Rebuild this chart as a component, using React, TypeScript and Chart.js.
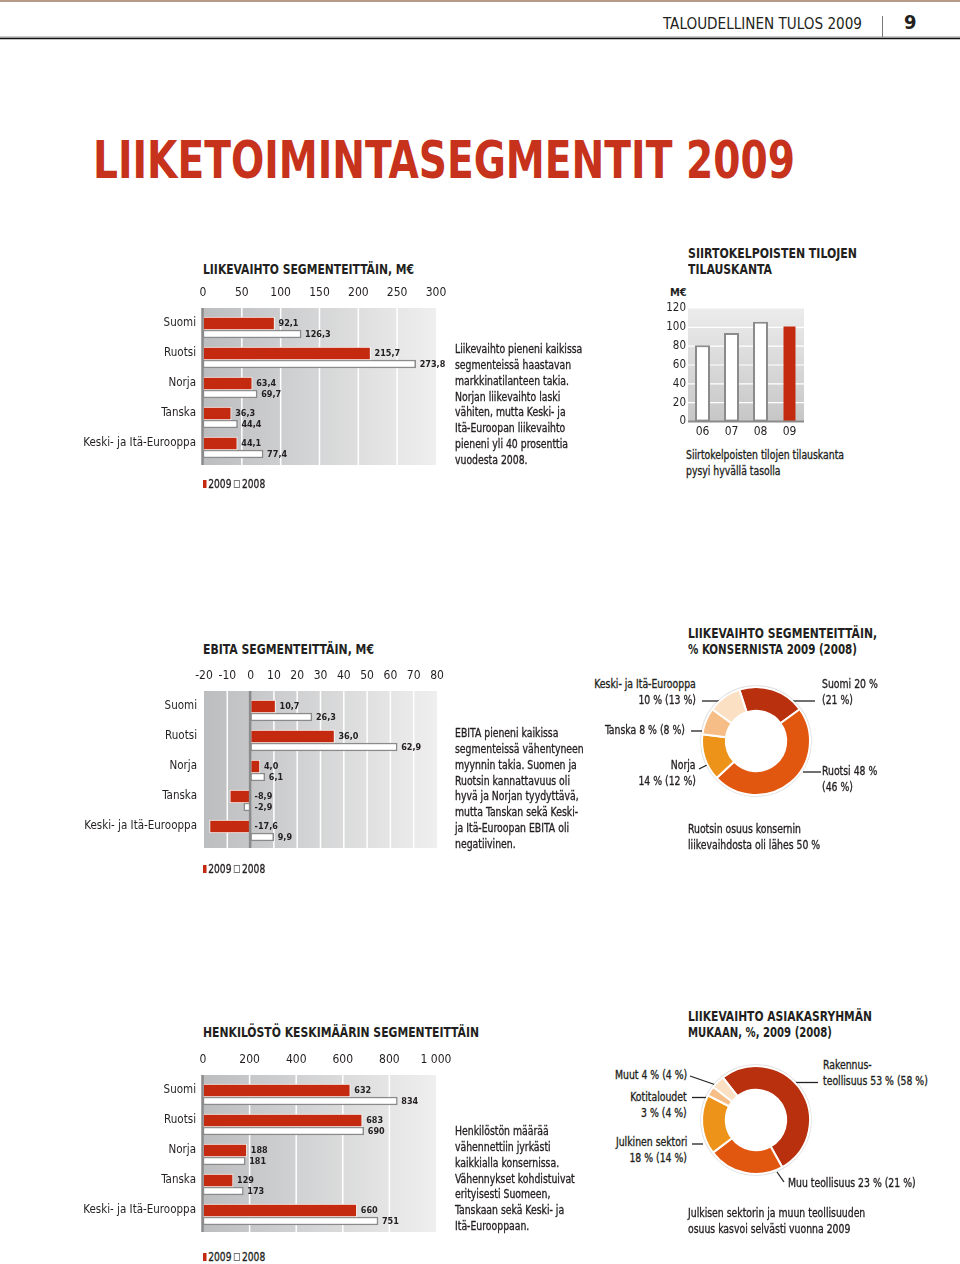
import React, { useEffect, useLayoutEffect, useRef } from 'react';
import { Chart, registerables } from 'chart.js';

Chart.register(...registerables);

const FONT = '"Liberation Sans Narrow", "DejaVu Sans Condensed", Roboto, sans-serif';
Chart.defaults.font.family = FONT;
Chart.defaults.color = '#231f20';

const TEXT = '#231f20';
const RED = '#c42a10';
const TITLE_RED = '#c6321b';
const GRAY = '#8b8b8b';

// ---------- data ----------
const segments = ['Suomi', 'Ruotsi', 'Norja', 'Tanska', 'Keski- ja Itä-Eurooppa'];
const revenue2009 = [92.1, 215.7, 63.4, 36.3, 44.1];
const revenue2008 = [126.3, 273.8, 69.7, 44.4, 77.4];
const ebita2009 = [10.7, 36.0, 4.0, -8.9, -17.6];
const ebita2008 = [26.3, 62.9, 6.1, -2.9, 9.9];
const staff2009 = [632, 683, 188, 129, 660];
const staff2008 = [834, 690, 181, 173, 751];
const orderYears = ['06', '07', '08', '09'];
const orderBacklog = [81, 94, 106, 101];
const segmentShare2009 = [20, 48, 14, 8, 10];
const segmentShare2008 = [21, 46, 12, 8, 13];
const customerGroups = ['Rakennusteollisuus', 'Muu teollisuus', 'Julkinen sektori', 'Kotitaloudet', 'Muut'];
const customerShare2009 = [53, 23, 18, 3, 4];
const customerShare2008 = [58, 21, 14, 4, 4];
const pieColors = ['#b9300f', '#e2570f', '#ee931a', '#f6bd86', '#fbe0c3'];

const fmtNum = (v: number) => String(v).replace(/\B(?=(\d{3})+(?!\d))/g, ' ');
const pct = (a: number, b: number) => `${a} % (${b} %)`;

// ---------- plugins ----------
const hbarBackground = {
  id: 'hbarBg',
  beforeDatasetsDraw(chart: any) {
    const { ctx, chartArea: { left, right, top, bottom } } = chart;
    const x = chart.scales.x;
    const t = top - 7;
    ctx.save();
    const g = ctx.createLinearGradient(left, 0, right, 0);
    g.addColorStop(0, '#bcbdbf');
    g.addColorStop(1, '#efefef');
    ctx.fillStyle = g;
    ctx.fillRect(left, t, right - left, bottom - t);
    ctx.strokeStyle = '#ffffff';
    ctx.lineWidth = 1.5;
    x.ticks.forEach((tk: any) => {
      const px = x.getPixelForValue(tk.value);
      if (px > left + 2 && px < right - 2 && tk.value !== 0) {
        ctx.beginPath();
        ctx.moveTo(px, t);
        ctx.lineTo(px, bottom);
        ctx.stroke();
      }
    });
    ctx.restore();
  },
  afterDatasetsDraw(chart: any) {
    const { ctx, chartArea: { top, bottom } } = chart;
    const px = chart.scales.x.getPixelForValue(0);
    ctx.save();
    ctx.strokeStyle = GRAY;
    ctx.lineWidth = 2.5;
    ctx.beginPath();
    ctx.moveTo(px - 0.5, top - 7);
    ctx.lineTo(px - 0.5, bottom);
    ctx.stroke();
    ctx.restore();
  },
};

const barValueLabels = (decimals: number) => ({
  id: 'barValueLabels',
  afterDatasetsDraw(chart: any) {
    const { ctx } = chart;
    const x0 = chart.scales.x.getPixelForValue(0);
    ctx.save();
    ctx.font = `bold 9px ${FONT}`;
    ctx.fillStyle = TEXT;
    ctx.textBaseline = 'middle';
    ctx.textAlign = 'left';
    chart.data.datasets.forEach((ds: any, di: number) => {
      const meta = chart.getDatasetMeta(di);
      meta.data.forEach((el: any, i: number) => {
        const v = ds.data[i] as number;
        const txt = decimals ? v.toFixed(decimals).replace('.', ',') : fmtNum(v);
        ctx.fillText(txt, Math.max(el.x, x0) + 4, el.y + 0.5);
      });
    });
    ctx.restore();
  },
});

const columnBackground = {
  id: 'colBg',
  beforeDatasetsDraw(chart: any) {
    const { ctx, chartArea: { left, right, top, bottom } } = chart;
    const y = chart.scales.y;
    ctx.save();
    const g = ctx.createLinearGradient(0, top, 0, bottom);
    g.addColorStop(0, '#ececec');
    g.addColorStop(1, '#c6c6c6');
    ctx.fillStyle = g;
    ctx.fillRect(left, top, right - left, bottom - top);
    ctx.strokeStyle = '#ffffff';
    ctx.lineWidth = 1.2;
    y.ticks.forEach((tk: any) => {
      const py = y.getPixelForValue(tk.value);
      if (py > top + 2 && py < bottom - 2) {
        ctx.beginPath();
        ctx.moveTo(left, py);
        ctx.lineTo(right, py);
        ctx.stroke();
      }
    });
    ctx.restore();
  },
  afterDatasetsDraw(chart: any) {
    const { ctx, chartArea: { left, right, bottom } } = chart;
    ctx.save();
    ctx.strokeStyle = GRAY;
    ctx.lineWidth = 2;
    ctx.beginPath();
    ctx.moveTo(left, bottom);
    ctx.lineTo(right, bottom);
    ctx.stroke();
    ctx.restore();
  },
};

const ringHalo = {
  id: 'ringHalo',
  beforeDatasetsDraw(chart: any) {
    const arc: any = chart.getDatasetMeta(0).data[0];
    if (!arc) return;
    const { ctx } = chart;
    ctx.save();
    ctx.beginPath();
    ctx.arc(arc.x, arc.y, arc.outerRadius + 0.5, 0, Math.PI * 2);
    ctx.strokeStyle = 'rgba(0,0,0,0.13)';
    ctx.lineWidth = 2.5;
    ctx.stroke();
    ctx.restore();
  },
};

// ---------- helpers ----------
function useChart(make: () => any) {
  const ref = useRef<HTMLCanvasElement>(null);
  useEffect(() => {
    const c = new Chart(ref.current as HTMLCanvasElement, make());
    return () => c.destroy();
  }, []);
  return ref;
}

function Txt({ x, y, lines, size = 11.5, lh = 15.8, weight = 400, align = 'left', color = TEXT, sx = 0.9, stroke = 0.3 }: any) {
  return (
    <>
      {lines.map((s: string, i: number) => {
        const st: any = {
          position: 'absolute', top: y + i * lh - lh / 2, height: lh, lineHeight: lh + 'px',
          fontSize: size, fontWeight: weight, color, whiteSpace: 'nowrap', fontFamily: FONT,
          transform: `scaleX(${sx})`, transformOrigin: align === 'right' ? 'right center' : 'left center',
          WebkitTextStroke: `${stroke}px ${color}`,
        };
        if (align === 'right') st.right = 960 - x; else st.left = x;
        return <div key={i} style={st}>{s}</div>;
      })}
    </>
  );
}

function Fit({ x, y, w, text, size, weight = 700, color = TEXT }: any) {
  const r = useRef<HTMLDivElement>(null);
  useLayoutEffect(() => {
    const el = r.current as HTMLDivElement;
    el.style.transform = 'none';
    const cw = el.getBoundingClientRect().width;
    if (cw > 0) el.style.transform = `scaleX(${w / cw})`;
  }, [w, text]);
  const lh = Math.round(size * 1.2);
  return (
    <div ref={r} style={{
      position: 'absolute', left: x, top: y - lh / 2, lineHeight: lh + 'px', fontSize: size,
      fontWeight: weight, color, whiteSpace: 'nowrap', transformOrigin: 'left center', fontFamily: FONT,
    }}>{text}</div>
  );
}

function Legend({ x, y }: any) {
  return (
    <div style={{ position: 'absolute', left: x, top: y - 8, height: 16, display: 'flex', alignItems: 'center', fontSize: 11.5, fontFamily: FONT, color: TEXT, transform: 'scaleX(0.88)', transformOrigin: 'left center', WebkitTextStroke: `0.3px ${TEXT}` }}>
      <span style={{ display: 'inline-block', width: 4, height: 8, background: RED, marginRight: 2 }} />2009
      <span style={{ display: 'inline-block', width: 7, height: 8, border: '1px solid #777', boxSizing: 'border-box', marginLeft: 3, marginRight: 2 }} />2008
    </div>
  );
}

// ---------- charts ----------
function HBar({ areaTop, areaLeft, areaRight, d09, d08, min, max, step, decimals }: any) {
  const left = 80, width = 400, top = areaTop - 35, height = 200;
  const ref = useChart(() => ({
    type: 'bar',
    data: {
      labels: segments,
      datasets: [
        { label: '2009', data: d09, backgroundColor: RED, borderColor: 'rgba(255,255,255,0.85)', borderWidth: 1, borderSkipped: false, barThickness: 13 },
        { label: '2008', data: d08, backgroundColor: '#ffffff', borderColor: GRAY, borderWidth: 1.5, borderSkipped: false, barThickness: 8 },
      ],
    },
    options: {
      indexAxis: 'y', responsive: false, animation: false, events: [],
      layout: { padding: { left: 0, top: 0, right: left + width - areaRight, bottom: 15 } },
      plugins: { legend: { display: false }, tooltip: { enabled: false } },
      scales: {
        x: {
          type: 'linear', position: 'top', min, max,
          grid: { display: false, drawTicks: false }, border: { display: false },
          ticks: { stepSize: step, padding: 14.5, autoSkip: false, maxRotation: 0, font: { size: 12 }, color: TEXT, callback: (v: any) => fmtNum(v) },
          afterFit: (s: any) => { s.height = 35; },
        },
        y: {
          type: 'category', grid: { display: false, drawTicks: false }, border: { display: false },
          ticks: { padding: 7, labelOffset: -7, autoSkip: false, font: { size: 11.5 }, color: TEXT },
          afterFit: (s: any) => { s.width = areaLeft - left; },
        },
      },
    },
    plugins: [hbarBackground, barValueLabels(decimals)],
  }));
  return <canvas ref={ref} width={width} height={height} style={{ position: 'absolute', left, top, width, height }} />;
}

function Columns() {
  const left = 640, top = 298, width = 180, height = 147;
  const ref = useChart(() => ({
    type: 'bar',
    data: {
      labels: orderYears,
      datasets: [
        { data: orderBacklog.map((v, i) => (i < orderBacklog.length - 1 ? v : null)), backgroundColor: '#ffffff', borderColor: GRAY, borderWidth: 2, borderSkipped: false, grouped: false, maxBarThickness: 15 },
        { data: orderBacklog.map((v, i) => (i === orderBacklog.length - 1 ? v : null)), backgroundColor: RED, borderWidth: 0, grouped: false, maxBarThickness: 12 },
      ],
    },
    options: {
      responsive: false, animation: false, events: [],
      layout: { padding: { left: 0, top: 10.5, right: 16, bottom: 0 } },
      plugins: { legend: { display: false }, tooltip: { enabled: false } },
      scales: {
        x: {
          grid: { display: false, drawTicks: false }, border: { display: false },
          ticks: { padding: 3.5, font: { size: 12 }, color: TEXT },
          afterFit: (s: any) => { s.height = 23.5; },
        },
        y: {
          min: 0, max: 120,
          grid: { display: false, drawTicks: false }, border: { display: false },
          ticks: { stepSize: 20, padding: 2, font: { size: 11.5 }, color: TEXT },
          afterFit: (s: any) => { s.width = 48; },
        },
      },
    },
    plugins: [columnBackground],
  }));
  return <canvas ref={ref} width={width} height={height} style={{ position: 'absolute', left, top, width, height }} />;
}

function Donut({ cx, cy, labels, values, rotation }: any) {
  const size = 120;
  const ref = useChart(() => ({
    type: 'doughnut',
    data: { labels, datasets: [{ data: values, backgroundColor: pieColors, borderColor: '#ffffff', borderWidth: 2, hoverOffset: 0 }] },
    options: {
      responsive: false, animation: false, events: [],
      rotation, radius: 54, cutout: 33,
      layout: { padding: 0 },
      plugins: { legend: { display: false }, tooltip: { enabled: false } },
    },
    plugins: [ringHalo],
  }));
  return <canvas ref={ref} width={size} height={size} style={{ position: 'absolute', left: cx - size / 2, top: cy - size / 2, width: size, height: size }} />;
}

const leaderLines: number[][] = [
  // donut 1
  [702, 701, 719, 701], [793, 701, 815, 701], [691, 731, 703, 731], [699, 769, 707, 765], [803, 772, 821, 772],
  // donut 2
  [690, 1076, 716, 1085], [692, 1097.5, 707, 1097.5], [692, 1144, 703, 1144], [795, 1082.5, 818, 1082.5], [777, 1172, 784, 1182],
];

export default function App() {
  const s1 = segmentShare2009, s0 = segmentShare2008;
  const c1 = customerShare2009, c0 = customerShare2008;
  return (
    <div style={{ position: 'absolute', left: 0, top: 0, width: 960, height: 1264, background: '#fff', overflow: 'hidden', fontFamily: FONT }}>
      <svg width={960} height={1264} style={{ position: 'absolute', left: 0, top: 0 }}>
        <line x1={0} y1={1} x2={960} y2={1} stroke="#b89a88" strokeWidth={2} />
        <line x1={0} y1={37} x2={960} y2={37} stroke="#9a9a9a" strokeWidth={1} />
        <line x1={0} y1={38.5} x2={960} y2={38.5} stroke="#111" strokeWidth={1.6} />
        <line x1={882.5} y1={16} x2={882.5} y2={37} stroke="#777" strokeWidth={1} />
        {leaderLines.map((l, i) => <line key={i} x1={l[0]} y1={l[1]} x2={l[2]} y2={l[3]} stroke="#222" strokeWidth={1.3} />)}
      </svg>

      {/* header */}
      <Fit x={663} y={24} w={199} text="TALOUDELLINEN TULOS 2009" size={15} weight={400} />
      <Txt x={904} y={22} lines={['9']} size={20} lh={24} weight={700} sx={1} stroke={0} />

      {/* page title */}
      <Fit x={93} y={160} w={702} text="LIIKETOIMINTASEGMENTIT 2009" size={52} weight={700} color={TITLE_RED} />

      {/* chart 1 */}
      <Fit x={203} y={269} w={211} text="LIIKEVAIHTO SEGMENTEITTÄIN, M€" size={14} />
      <HBar areaTop={315} areaLeft={203} areaRight={436} d09={revenue2009} d08={revenue2008} min={0} max={300} step={50} decimals={1} />
      <Legend x={203} y={484} />
      <Txt x={455} y={350} lines={['Liikevaihto pieneni kaikissa', 'segmenteissä haastavan', 'markkinatilanteen takia.', 'Norjan liikevaihto laski', 'vähiten, mutta Keski- ja', 'Itä-Euroopan liikevaihto', 'pieneni yli 40 prosenttia', 'vuodesta 2008.']} />

      {/* chart 2 */}
      <Fit x={688} y={253} w={169} text="SIIRTOKELPOISTEN TILOJEN" size={14} />
      <Fit x={688} y={269} w={84} text="TILAUSKANTA" size={14} />
      <Txt x={670} y={293} lines={['M€']} size={11} weight={700} sx={1} stroke={0} />
      <Columns />
      <Txt x={686} y={456} lines={['Siirtokelpoisten tilojen tilauskanta', 'pysyi hyvällä tasolla']} />

      {/* chart 3 */}
      <Fit x={203} y={649} w={171} text="EBITA SEGMENTEITTÄIN, M€" size={14} />
      <HBar areaTop={698} areaLeft={204} areaRight={437} d09={ebita2009} d08={ebita2008} min={-20} max={80} step={10} decimals={1} />
      <Legend x={203} y={869} />
      <Txt x={455} y={734} lines={['EBITA pieneni kaikissa', 'segmenteissä vähentyneen', 'myynnin takia. Suomen ja', 'Ruotsin kannattavuus oli', 'hyvä ja Norjan tyydyttävä,', 'mutta Tanskan sekä Keski-', 'ja Itä-Euroopan EBITA oli', 'negatiivinen.']} />

      {/* chart 4 */}
      <Fit x={688} y={633} w={189} text="LIIKEVAIHTO SEGMENTEITTÄIN," size={14} />
      <Fit x={688} y={649} w={169} text="% KONSERNISTA 2009 (2008)" size={14} />
      <Donut cx={756} cy={741} labels={segments} values={segmentShare2009} rotation={-18} />
      <Txt x={696} y={685} align="right" lines={['Keski- ja Itä-Eurooppa', pct(s1[4], s0[4])]} />
      <Txt x={822} y={685} lines={[`Suomi ${s1[0]} %`, `(${s0[0]} %)`]} />
      <Txt x={685} y={731} align="right" lines={[`Tanska ${pct(s1[3], s0[3])}`]} />
      <Txt x={696} y={766} align="right" lines={['Norja', pct(s1[2], s0[2])]} />
      <Txt x={822} y={772} lines={[`Ruotsi ${s1[1]} %`, `(${s0[1]} %)`]} />
      <Txt x={688} y={830} lines={['Ruotsin osuus konsernin', 'liikevaihdosta oli lähes 50 %']} />

      {/* chart 5 */}
      <Fit x={203} y={1032} w={276} text="HENKILÖSTÖ KESKIMÄÄRIN SEGMENTEITTÄIN" size={14} />
      <HBar areaTop={1082} areaLeft={203} areaRight={436} d09={staff2009} d08={staff2008} min={0} max={1000} step={200} decimals={0} />
      <Legend x={203} y={1257} />
      <Txt x={455} y={1132} lines={['Henkilöstön määrää', 'vähennettiin jyrkästi', 'kaikkialla konsernissa.', 'Vähennykset kohdistuivat', 'erityisesti Suomeen,', 'Tanskaan sekä Keski- ja', 'Itä-Eurooppaan.']} />

      {/* chart 6 */}
      <Fit x={688} y={1016} w={184} text="LIIKEVAIHTO ASIAKASRYHMÄN" size={14} />
      <Fit x={688} y={1032} w={144} text="MUKAAN, %, 2009 (2008)" size={14} />
      <Donut cx={756} cy={1120} labels={customerGroups} values={customerShare2009} rotation={-38} />
      <Txt x={687} y={1076} align="right" lines={[`Muut ${pct(c1[4], c0[4])}`]} />
      <Txt x={687} y={1098} align="right" lines={['Kotitaloudet', pct(c1[3], c0[3])]} />
      <Txt x={687} y={1143} align="right" lines={['Julkinen sektori', pct(c1[2], c0[2])]} />
      <Txt x={823} y={1066} lines={['Rakennus-', `teollisuus ${pct(c1[0], c0[0])}`]} />
      <Txt x={788} y={1184} lines={[`Muu teollisuus ${pct(c1[1], c0[1])}`]} />
      <Txt x={688} y={1214} lines={['Julkisen sektorin ja muun teollisuuden', 'osuus kasvoi selvästi vuonna 2009']} />
    </div>
  );
}
